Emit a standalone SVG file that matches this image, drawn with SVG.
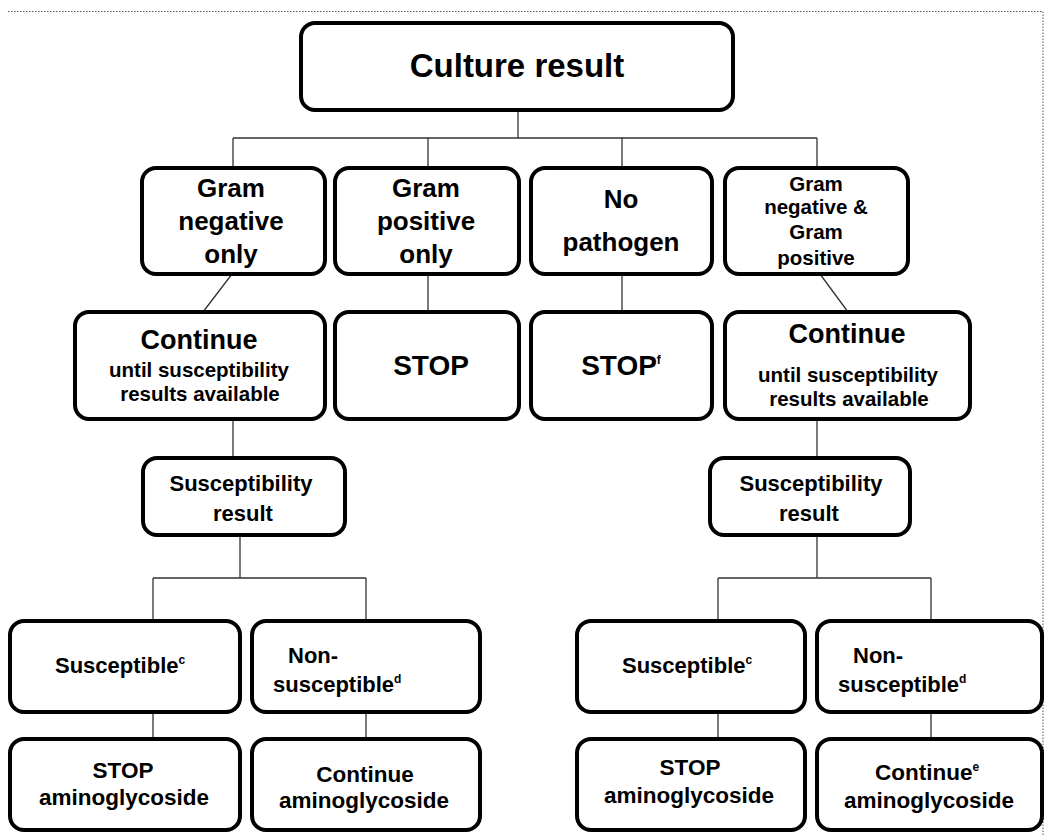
<svg xmlns="http://www.w3.org/2000/svg" width="1045" height="835" viewBox="0 0 1045 835">
<style>
.box{fill:#fff;stroke:#000;stroke-width:4}
.c{fill:none;stroke:#333;stroke-width:1.3}
text{font-family:"Liberation Sans",Arial,sans-serif;font-weight:bold;fill:#000}
.m{text-anchor:middle}
.sup{font-size:12px}
</style>
<rect width="1045" height="835" fill="#fff"/>
<path d="M8 11.5H1043V835" fill="none" stroke="#555" stroke-width="1" stroke-dasharray="1.5 1.5"/>
<g id="connectors">
<path class="c" d="M518 110V138M233 138H817M233 138V168M428 138V168M622 138V168M817 138V168"/>
<path class="c" d="M232 274L203 312M428 274V312M622 274V312M820 274L848 312"/>
<path class="c" d="M233 419V458M817 419V458"/>
<path class="c" d="M240 535V578M153 578H366M153 578V620M366 578V620"/>
<path class="c" d="M817 535V578M718 578H931M718 578V620M931 578V620"/>
<path class="c" d="M153 713V739M366 713V739M718 713V739M931 713V739"/>
</g>
<g id="culture"><rect class="box" x="301" y="23" width="432" height="87" rx="14"/><text class="m" x="517" y="77" font-size="33">Culture result</text></g>
<g id="gramneg"><rect class="box" x="142" y="168" width="183" height="106" rx="14"/><text class="m" x="231" y="197" font-size="26">Gram</text><text class="m" x="231" y="230" font-size="26">negative</text><text class="m" x="231" y="263" font-size="26">only</text></g>
<g id="grampos"><rect class="box" x="335" y="168" width="184" height="106" rx="14"/><text class="m" x="426" y="197" font-size="26">Gram</text><text class="m" x="426" y="230" font-size="26">positive</text><text class="m" x="426" y="263" font-size="26">only</text></g>
<g id="nopath"><rect class="box" x="531" y="168" width="181" height="106" rx="14"/><text class="m" x="621" y="208" font-size="26">No</text><text class="m" x="621" y="251" font-size="26">pathogen</text></g>
<g id="gramboth"><rect class="box" x="725" y="168" width="183" height="106" rx="14"/><text class="m" x="816" y="191" font-size="20.5">Gram</text><text class="m" x="816" y="214" font-size="20.5">negative &amp;</text><text class="m" x="816" y="239" font-size="20.5">Gram</text><text class="m" x="816" y="265" font-size="20.5">positive</text></g>
<g id="cont1"><rect class="box" x="75" y="312" width="250" height="107" rx="14"/><text class="m" x="199" y="349" font-size="27">Continue</text><text class="m" x="199" y="377" font-size="20.5">until susceptibility</text><text class="m" x="200" y="401" font-size="20.5">results available</text></g>
<g id="stop1"><rect class="box" x="335" y="312" width="184" height="107" rx="14"/><text class="m" x="431" y="375" font-size="28">STOP</text></g>
<g id="stop2"><rect class="box" x="531" y="312" width="181" height="107" rx="14"/><text class="m" x="621" y="375" font-size="28">STOP<tspan class="sup" dy="-11">f</tspan></text></g>
<g id="cont2"><rect class="box" x="725" y="312" width="245" height="107" rx="14"/><text class="m" x="847" y="343" font-size="27">Continue</text><text class="m" x="848" y="382" font-size="20.5">until susceptibility</text><text class="m" x="849" y="406" font-size="20.5">results available</text></g>
<g id="susres1"><rect class="box" x="143" y="458" width="202" height="77" rx="14"/><text class="m" x="241" y="491" font-size="22">Susceptibility</text><text class="m" x="243" y="521" font-size="22">result</text></g>
<g id="susres2"><rect class="box" x="710" y="458" width="200" height="77" rx="14"/><text class="m" x="811" y="491" font-size="22">Susceptibility</text><text class="m" x="809" y="521" font-size="22">result</text></g>
<g id="susc1"><rect class="box" x="10" y="621" width="230" height="91" rx="14"/><text x="55" y="673" font-size="22">Susceptible<tspan class="sup" dy="-9">c</tspan></text></g>
<g id="nonsusc1"><rect class="box" x="252" y="621" width="228" height="91" rx="14"/><text x="288" y="663" font-size="22">Non-</text><text x="273" y="692" font-size="22">susceptible<tspan class="sup" dy="-9">d</tspan></text></g>
<g id="susc2"><rect class="box" x="577" y="621" width="228" height="91" rx="14"/><text x="622" y="673" font-size="22">Susceptible<tspan class="sup" dy="-9">c</tspan></text></g>
<g id="nonsusc2"><rect class="box" x="817" y="621" width="225" height="91" rx="14"/><text x="853" y="663" font-size="22">Non-</text><text x="838" y="692" font-size="22">susceptible<tspan class="sup" dy="-9">d</tspan></text></g>
<g id="stopag1"><rect class="box" x="10" y="739" width="230" height="91" rx="14"/><text class="m" x="123" y="778" font-size="22.5">STOP</text><text class="m" x="124" y="805" font-size="22.5">aminoglycoside</text></g>
<g id="contag1"><rect class="box" x="252" y="739" width="228" height="91" rx="14"/><text class="m" x="365" y="782" font-size="22.5">Continue</text><text class="m" x="364" y="808" font-size="22.5">aminoglycoside</text></g>
<g id="stopag2"><rect class="box" x="577" y="739" width="228" height="91" rx="14"/><text class="m" x="690" y="775" font-size="22.5">STOP</text><text class="m" x="689" y="803" font-size="22.5">aminoglycoside</text></g>
<g id="contag2"><rect class="box" x="817" y="739" width="225" height="91" rx="14"/><text x="875" y="780" font-size="22.5">Continue<tspan class="sup" dy="-9">e</tspan></text><text class="m" x="929" y="808" font-size="22.5">aminoglycoside</text></g>
</svg>
